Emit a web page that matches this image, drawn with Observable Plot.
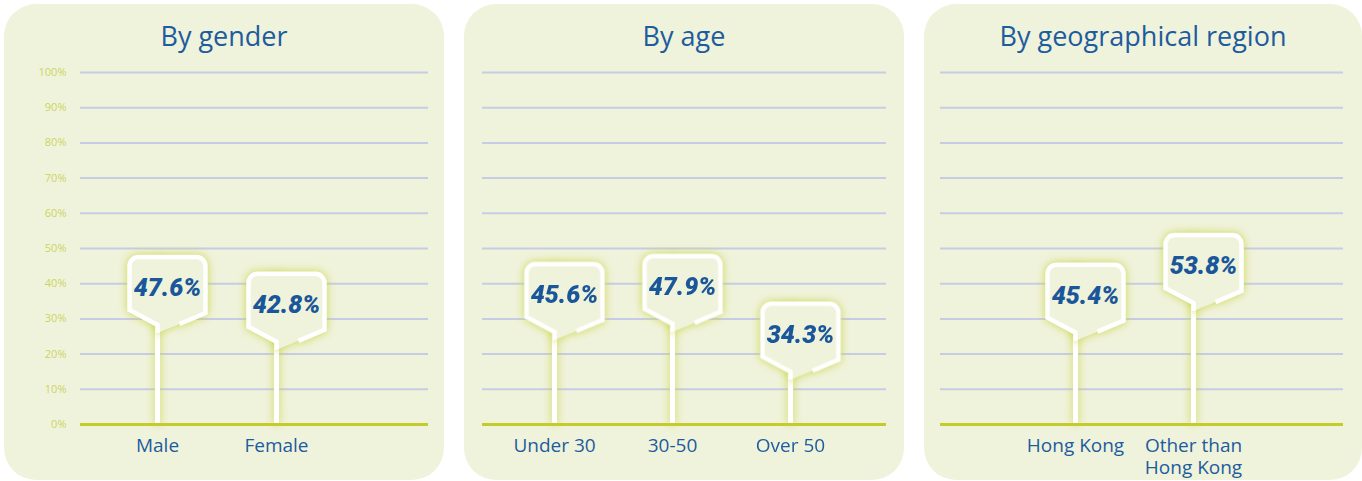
<!DOCTYPE html>
<html>
<head>
<meta charset="utf-8">
<script src="https://cdn.jsdelivr.net/npm/d3@7"></script>
<script src="https://cdn.jsdelivr.net/npm/@observablehq/plot@0.6"></script>
<style>
  html, body { margin: 0; padding: 0; background: #ffffff; }
  #wrap { position: relative; width: 1362px; height: 481px; overflow: hidden; background: #fff; }
  .panel { position: absolute; top: 4px; height: 476px; border-radius: 32px; background: #f0f3db; }
  .title { position: absolute; top: 18px; left: 0; right: 0; text-align: center; font-family: "Open Sans", sans-serif; font-size: 27px; line-height: 1; color: #1d5c9e; }
  .chart { position: absolute; top: 48px; left: 0; }
  .chart svg { background: transparent; overflow: visible; }
  .chart g[aria-label="dot"], .chart g[aria-label="link"] { filter: drop-shadow(0 0 4px rgba(200, 212, 70, 0.95)); }
</style>
</head>
<body>
<div id="wrap"></div>
<script>
// ---- data ----
const genderCats = ["Male", "Female"];
const genderVals = [47.6, 42.8];
const ageCats = ["Under 30", "30-50", "Over 50"];
const ageVals = [45.6, 47.9, 34.3];
const regionCats = ["Hong Kong", "Other than Hong Kong"];
const regionVals = [45.4, 53.8];
const yTicks = [0, 10, 20, 30, 40, 50, 60, 70, 80, 90, 100];
const titles = ["By gender", "By age", "By geographical region"];

// ---- styles ----
const panelBg = "#f0f3db";
const blue = "#1d5c9e";
const numBlue = "#1a579a";

// sign-post symbol, anchored at the top of the box above the stem
const sign = {
  draw(ctx) {
    ctx.moveTo(22, 67);
    ctx.lineTo(48, 56);
    ctx.lineTo(48, 9);
    ctx.arcTo(48, 0, 39, 0, 9);
    ctx.lineTo(-19, 0);
    ctx.arcTo(-28, 0, -28, 9, 9);
    ctx.lineTo(-28, 53);
    ctx.lineTo(0, 68);
    ctx.lineTo(0, 76);
  }
};

const panels = [
  {left: 4, width: 440, cats: genderCats, vals: genderVals, range: [153, 272], mL: 76, mR: 16, yAxis: true},
  {left: 464, width: 440, cats: ageCats, vals: ageVals, range: [90, 326], mL: 18, mR: 18, yAxis: false},
  {left: 924, width: 438, cats: regionCats, vals: regionVals, range: [151, 269], mL: 16, mR: 19, yAxis: false}
];

const wrap = document.getElementById("wrap");

panels.forEach((p, i) => {
  const div = document.createElement("div");
  div.className = "panel";
  div.style.left = p.left + "px";
  div.style.width = p.width + "px";
  const t = document.createElement("div");
  t.className = "title";
  t.textContent = titles[i];
  div.appendChild(t);

  const data = p.cats.map((c, j) => ({cat: c, value: p.vals[j]}));

  const marks = [
    Plot.ruleY(yTicks.filter(d => d > 0), {stroke: "#c6cce4", strokeWidth: 2}),
    Plot.link(data, {x1: "cat", x2: "cat", y1: () => 0, y2: "value", stroke: "#ffffff", strokeWidth: 5}),
    Plot.ruleY([0], {stroke: "#c4cc2c", strokeWidth: 3}),
    Plot.dot(data, {x: "cat", y: "value", symbol: sign, fill: panelBg, stroke: "#ffffff", strokeWidth: 4.5}),
    Plot.text(data, {x: "cat", y: "value", text: d => d.value.toFixed(1) + "%", dx: 10, dy: 31,
      fontSize: 25, fontWeight: 900, fontStyle: "italic", fill: numBlue, fontFamily: "Roboto"}),
    Plot.axisX({tickSize: 0, tickPadding: 11, fontSize: 19, fill: blue, label: null, lineHeight: 1.2,
      fontFamily: "Open Sans", tickFormat: d => d.replace(" than ", " than\n")})
  ];
  if (p.yAxis) {
    marks.push(Plot.axisY({ticks: yTicks, tickSize: 0, tickPadding: 14, fontSize: 11, fill: "#cbd464",
      label: null, fontFamily: "Open Sans", tickFormat: d => d + "%"}));
  }

  const chart = Plot.plot({
    width: p.width,
    height: 428,
    marginTop: 20,
    marginBottom: 56,
    marginLeft: p.mL,
    marginRight: p.mR,
    style: {background: "transparent", fontFamily: "Open Sans"},
    x: {type: "point", domain: p.cats, range: p.range, padding: 0},
    y: {domain: [0, 100], axis: p.yAxis ? undefined : null},
    marks
  });
  const holder = document.createElement("div");
  holder.className = "chart";
  holder.appendChild(chart);
  div.appendChild(holder);
  wrap.appendChild(div);
});
</script>
</body>
</html>
